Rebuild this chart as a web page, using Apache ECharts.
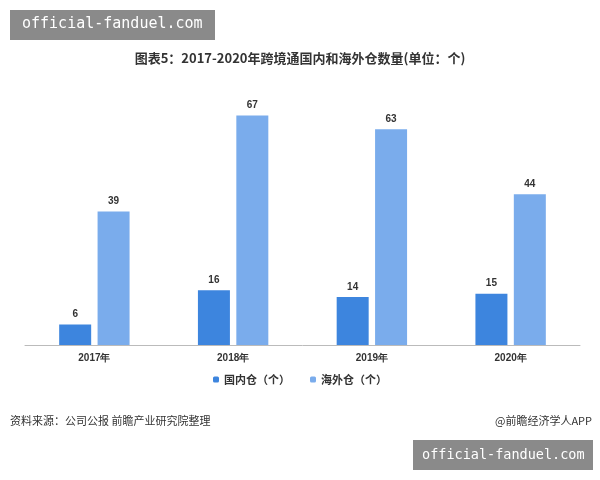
<!DOCTYPE html><html><head><meta charset="utf-8"><script src="https://cdn.jsdelivr.net/npm/echarts@6/dist/echarts.min.js"></script></head><body style="margin:0"><div id="c" style="width:600px;height:480px"></div><script>
const categories=['2017年','2018年','2019年','2020年'];
const domestic=[6,16,14,15];
const overseas=[39,67,63,44];
const ch=echarts.init(document.getElementById('c'));
ch.setOption({
backgroundColor:'#fff',
title:{text:'图表5：2017-2020年跨境通国内和海外仓数量(单位：个)',left:'center',top:47,textStyle:{fontSize:13,fontWeight:'bold',color:'#333',fontFamily:'Noto Sans CJK SC'}},
legend:{bottom:90,itemWidth:6,itemHeight:6,itemGap:20,textStyle:{fontSize:11,fontWeight:'bold',color:'#333',fontFamily:'Noto Sans CJK SC'},data:['国内仓（个）','海外仓（个）']},
grid:{left:25,right:20,top:71,bottom:135},
xAxis:{type:'category',data:categories,axisTick:{show:false},axisLine:{lineStyle:{color:'#bbb'}},axisLabel:{fontWeight:'bold',fontSize:10,color:'#333'}},
yAxis:{type:'value',min:0,max:80,show:false},
series:[
{name:'国内仓（个）',type:'bar',data:domestic,barWidth:32,barGap:'20%',itemStyle:{color:'#3d85de'},label:{show:true,position:'top',fontWeight:'bold',fontSize:10,color:'#333'}},
{name:'海外仓（个）',type:'bar',data:overseas,barWidth:32,itemStyle:{color:'#7aacec'},label:{show:true,position:'top',fontWeight:'bold',fontSize:10,color:'#333'}}
],
graphic:[
{type:'text',left:10,top:415,style:{text:'资料来源：公司公报 前瞻产业研究院整理',fontSize:11,fill:'#333',fontFamily:'Noto Sans CJK SC'}},
{type:'text',right:8,top:415,style:{text:'@前瞻经济学人APP',fontSize:11,fill:'#333',fontFamily:'Noto Sans CJK SC'}},
{type:'group',left:10,top:10,children:[{type:'rect',shape:{width:205,height:30},style:{fill:'#8a8a8a'}},{type:'text',x:12,y:7,style:{text:'official-fanduel.com',fontSize:15,fill:'#fff',fontFamily:'DejaVu Sans Mono'}}]},
{type:'group',left:413,top:440,children:[{type:'rect',shape:{width:180,height:30},style:{fill:'#8a8a8a'}},{type:'text',x:9,y:8,style:{text:'official-fanduel.com',fontSize:13.5,fill:'#fff',fontFamily:'DejaVu Sans Mono'}}]}
]});
</script></body></html>
